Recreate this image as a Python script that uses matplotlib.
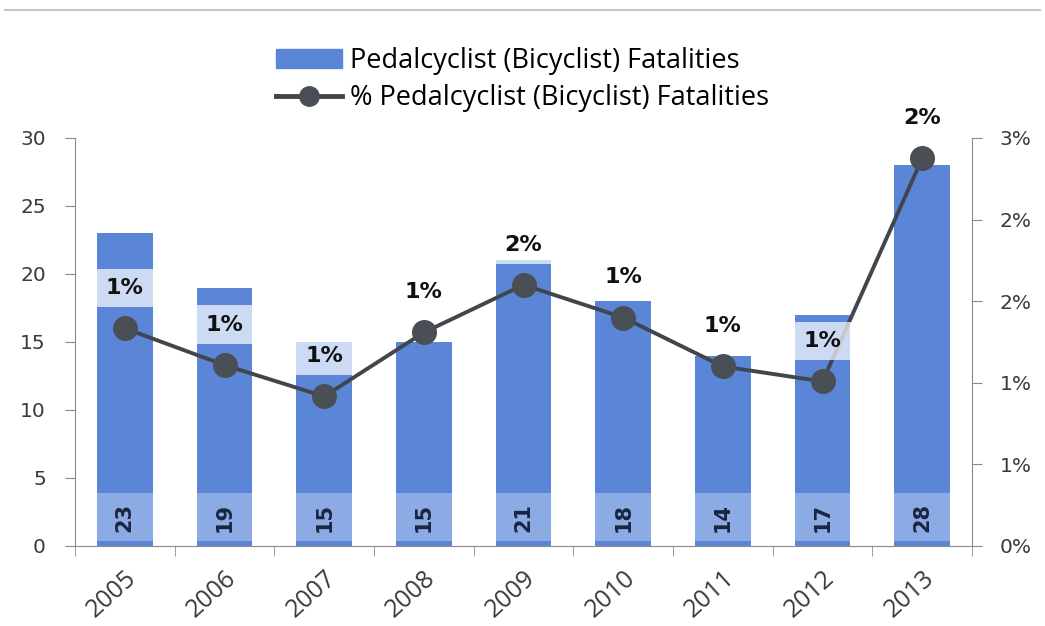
import matplotlib.pyplot as plt
from matplotlib.lines import Line2D
from matplotlib.patches import Patch
import numpy as np

years = ['2005', '2006', '2007', '2008', '2009', '2010', '2011', '2012', '2013']
fatalities = [23, 19, 15, 15, 21, 18, 14, 17, 28]
pct_fatalities = [1.60, 1.33, 1.10, 1.57, 1.92, 1.68, 1.32, 1.21, 2.85]
pct_labels = ['1%', '1%', '1%', '1%', '2%', '1%', '1%', '1%', '2%']
left_ticks = [0, 5, 10, 15, 20, 25, 30]
right_ticks = [0, 0.6, 1.2, 1.8, 2.4, 3.0]

bar_color = '#5B86D8'
line_color = '#41464C'
axis_gray = '#8A8A8A'
text_gray = '#3A3A3A'

fig = plt.figure(figsize=(10.45, 6.26), dpi=100)
ax = fig.add_axes([0.0718, 0.1278, 0.8584, 0.6518])
ax2 = ax.twinx()

x = np.arange(len(years))
ax.bar(x, fatalities, width=0.56, color=bar_color, zorder=2)
# lighter band behind the count labels
ax.bar(x, 3.5, bottom=0.4, width=0.56, color='white', alpha=0.3, zorder=3)
for xi, v in zip(x, fatalities):
    ax.text(xi, 2.1, str(v), rotation=90, ha='center', va='center',
            fontsize=15, fontweight='bold', color='#1A2540', zorder=4)

ax.set_xlim(-0.5, len(years) - 0.5)
ax.set_ylim(0, 30)
ax.set_yticks(left_ticks)
ax.set_xticks(x)
ax.set_xticklabels(years, rotation=42, ha='right', rotation_mode='anchor',
                   fontsize=18, family='Open Sans', color=text_gray)
ax.set_xticks(np.arange(-0.5, len(years), 1), minor=True)
ax.tick_params(axis='x', which='major', length=0, pad=14)
ax.tick_params(axis='x', which='minor', length=7, color=axis_gray, direction='out')
ax.tick_params(axis='y', length=7, color=axis_gray, direction='out',
               labelsize=14.5, labelcolor=text_gray, pad=14)

ax2.plot(x, pct_fatalities, color=line_color, lw=2.8, marker='o', ms=17,
         mfc='#4A4F56', mec='#4A4F56', zorder=5)
for xi, p, lab in zip(x, pct_fatalities, pct_labels):
    ax2.annotate(lab, (xi, p), xytext=(0, 29), textcoords='offset points',
                 ha='center', va='center', fontsize=16, fontweight='bold',
                 color='#111111', zorder=6,
                 bbox=dict(boxstyle='square,pad=0.42', fc='white', ec='none', alpha=0.7))
ax2.set_ylim(0, 3)
ax2.set_yticks(right_ticks)
ax2.set_yticklabels([f'{t:.0f}%' for t in right_ticks])
ax2.tick_params(axis='y', length=7, color=axis_gray, direction='out',
                labelsize=14.5, labelcolor=text_gray, pad=13)

for a in (ax, ax2):
    a.spines['top'].set_visible(False)
    for s in ('left', 'right', 'bottom'):
        a.spines[s].set_color(axis_gray)
ax.spines['right'].set_visible(False)
ax2.spines['left'].set_visible(False)
ax2.spines['bottom'].set_visible(False)

handles = [Patch(color=bar_color),
           Line2D([], [], color=line_color, lw=3.5, marker='o', ms=14,
                  mfc='#4A4F56', mec='#4A4F56')]
fig.legend(handles, ['Pedalcyclist (Bicyclist) Fatalities',
                     '% Pedalcyclist (Bicyclist) Fatalities'],
           loc='upper center', bbox_to_anchor=(0.5, 0.943), borderaxespad=0,
           frameon=False, prop={'family': 'Open Sans', 'size': 19.5},
           handlelength=2.45, handletextpad=0.3, labelspacing=0.35)

fig.add_artist(Line2D([0.005, 0.995], [0.984, 0.984], transform=fig.transFigure,
                      color='#C8C8C8', lw=1.5))

fig.savefig('out.png', dpi=100)
